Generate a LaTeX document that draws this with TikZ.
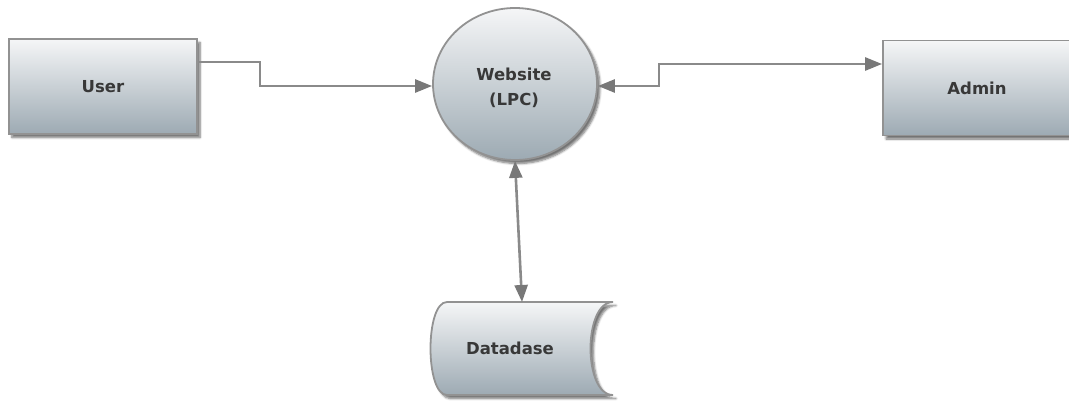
\documentclass[tikz,border=0pt]{standalone}
\usepackage{fontspec}
\setmainfont{DejaVu Sans}
\usetikzlibrary{shapes.geometric,arrows.meta,shadows.blur}
\definecolor{gtop}{HTML}{F5F6F7}
\definecolor{gbot}{HTML}{9DAAB3}
\definecolor{edge}{HTML}{929292}
\definecolor{wire}{HTML}{8A8A8A}
\definecolor{tip}{HTML}{787878}
\definecolor{txt}{HTML}{383838}
\tikzset{
  shade3d/.style={top color=gtop, bottom color=gbot, draw=edge, line width=1.8pt,
    blur shadow={shadow xshift=3pt, shadow yshift=-3.5pt, shadow blur steps=6, shadow opacity=55}},
  lbl/.style={font=\fontsize{16.5}{25}\selectfont\bfseries, text=txt, align=center},
  boxnode/.style={shade3d, rectangle, minimum width=188pt, minimum height=95pt, lbl},
  conn/.style={draw=wire, line width=2.6pt},
  tiphead/.tip={Triangle[length=17pt, width=13pt, color=tip]}
}
\begin{document}
\begin{tikzpicture}[x=1pt,y=-1pt]
\useasboundingbox (0,0) rectangle (1069,402);
% nodes
\node[boxnode] (user) at (103,86.5) {User};
\node[boxnode, minimum width=194pt] (admin) at (980,88) {};
\node[lbl] (admintxt) at (977,88) {Admin};
\node[shade3d, ellipse, minimum width=164pt, minimum height=152pt, inner sep=0pt] (web) at (515,84) {};
\node[lbl, anchor=center] (webtxt) at (514,87.5) {Website\\(LPC)};
% database shape
\path[shade3d] (447,302) -- (613,302)
   .. controls (583,302) and (583,395) .. (613,395)
   -- (447,395)
   .. controls (425,395) and (425,302) .. (447,302) -- cycle;
\node[lbl, minimum width=186pt, minimum height=93pt] (db) at (520,348.5) {};
\node[lbl] (dbtxt) at (510,348) {Datadase};
\coordinate (dbtop) at (522,302);
% connectors
\draw[conn, -{tiphead}] (user.east |- 0,62) -| (260,86) -- (web.west |- 0,86);
\draw[conn, {tiphead}-{tiphead}] (web.east |- 0,86) -| (659,64) -- (admin.west |- 0,64);
\draw[conn, {tiphead}-{tiphead}] (web.south) -- (dbtop);
\end{tikzpicture}
\end{document}
